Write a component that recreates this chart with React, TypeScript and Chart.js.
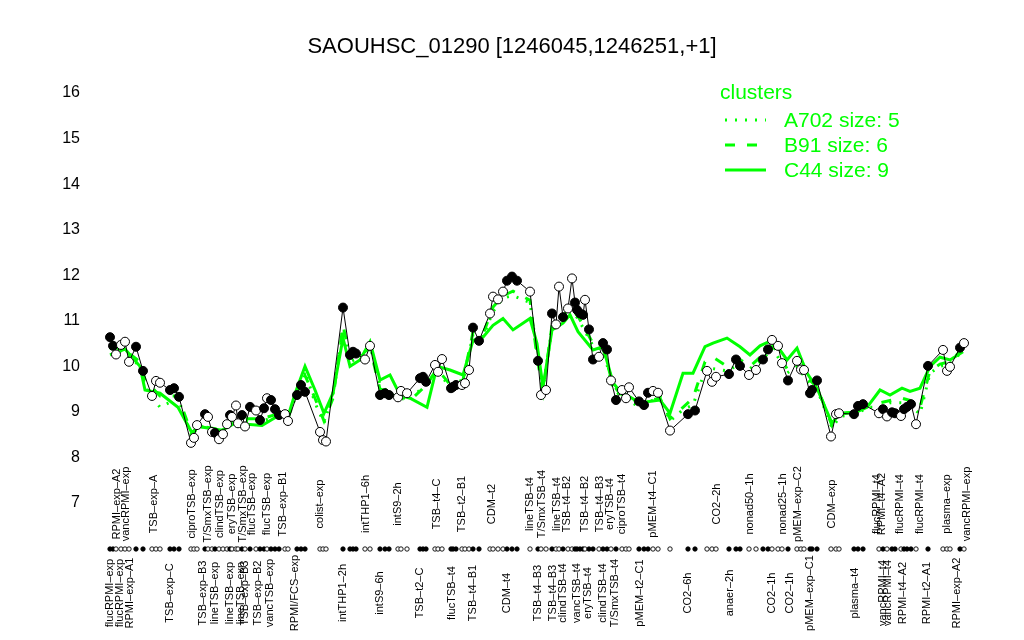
import React, { useEffect, useRef } from "react";
import { Chart, registerables } from "chart.js";

Chart.register(...registerables);

const TITLE = "SAOUHSC_01290 [1246045,1246251,+1]";

// sample positions along the condition axis, expression values, filled marker flag
const samplePos = [
  110, 113, 116, 121, 125, 129, 136, 143, 152, 156, 160, 170, 174, 179, 191, 194, 197, 205, 208, 212,
  215, 219, 223, 227, 230, 232, 236, 238, 242, 245, 250, 256, 260, 264, 267, 271, 275, 279, 285, 288,
  297, 301, 305, 320, 323, 326, 343, 350, 353, 356, 365, 370, 380, 385, 389, 398, 401, 407, 420, 423,
  426, 435, 438, 442, 451, 453, 456, 462, 465, 469, 473, 479, 490, 493, 498, 503, 507, 512, 517, 530,
  538, 541, 546, 552, 556, 559, 563, 568, 572, 575, 577, 580, 583, 585, 589, 593, 599, 603, 607, 611,
  616, 622, 626, 629, 639, 644, 648, 653, 658, 670, 688, 695, 707, 712, 716, 729, 736, 740, 749, 756,
  763, 768, 772, 778, 782, 788, 797, 801, 804, 810, 812, 817, 831, 836, 839, 854, 858, 863, 879, 883,
  887, 892, 895, 901, 904, 907, 911, 916, 928, 943, 947, 950, 960, 964,
];
const sampleVal = [
  10.64, 10.45, 10.26, 10.47, 10.54, 10.1, 10.43, 9.9, 9.35, 9.68, 9.64, 9.48, 9.52, 9.33, 8.32, 8.43, 8.71, 8.95, 8.89, 8.56,
  8.54, 8.4, 8.51, 8.73, 8.93, 8.89, 9.14, 8.75, 8.93, 8.68, 9.11, 9.03, 8.82, 9.08, 9.3, 9.26, 9.06, 8.93, 8.95, 8.8,
  9.37, 9.59, 9.44, 8.56, 8.38, 8.35, 11.29, 10.25, 10.32, 10.28, 10.15, 10.45, 9.37, 9.41, 9.37, 9.32, 9.46, 9.41, 9.74, 9.77,
  9.66, 10.03, 9.88, 10.16, 9.52, 9.55, 9.59, 9.59, 9.63, 9.92, 10.85, 10.56, 11.16, 11.53, 11.47, 11.64, 11.88, 11.97, 11.88, 11.64,
  10.12, 9.37, 9.48, 11.16, 10.92, 11.75, 11.08, 11.27, 11.93, 11.4, 11.24, 11.16, 11.13, 11.46, 10.81, 10.15, 10.21, 10.51, 10.37, 9.69,
  9.26, 9.48, 9.3, 9.54, 9.23, 9.15, 9.42, 9.46, 9.42, 8.59, 8.95, 9.03, 9.9, 9.66, 9.77, 9.83, 10.15, 10.01, 9.81, 9.92,
  10.15, 10.37, 10.58, 10.45, 10.07, 9.69, 10.12, 9.93, 9.92, 9.41, 9.48, 9.69, 8.46, 8.95, 8.97, 8.95, 9.13, 9.17, 8.97, 9.06,
  8.9, 8.99, 8.97, 8.91, 9.06, 9.11, 9.17, 8.73, 10.01, 10.36, 9.9, 9.99, 10.41, 10.51,
];
const sampleFilled = [
  1, 1, 0, 0, 0, 0, 1, 1, 0, 0, 0, 1, 1, 1, 0, 0, 0, 1, 0, 0,
  1, 0, 0, 0, 1, 0, 0, 0, 1, 0, 1, 0, 1, 1, 0, 1, 1, 1, 0, 0,
  1, 1, 1, 0, 0, 0, 1, 1, 1, 1, 0, 0, 1, 1, 1, 0, 0, 0, 1, 1,
  1, 0, 0, 0, 1, 1, 1, 0, 0, 0, 1, 1, 0, 0, 0, 0, 1, 1, 1, 0,
  1, 0, 0, 1, 0, 0, 1, 0, 0, 1, 1, 1, 1, 0, 1, 1, 0, 1, 1, 0,
  1, 0, 0, 0, 1, 1, 1, 0, 0, 0, 1, 1, 0, 0, 0, 1, 1, 1, 0, 0,
  1, 1, 0, 0, 0, 1, 0, 0, 0, 1, 1, 1, 0, 0, 0, 1, 1, 1, 0, 1,
  0, 1, 1, 0, 1, 1, 1, 0, 1, 0, 0, 0, 1, 0,
];

// cluster profiles
const clusterPos = [
  110, 125, 140, 145, 160, 178, 192, 198, 222, 235, 262, 277, 288, 295, 305, 315, 324, 333, 343, 350,
  360, 370, 380, 390, 400, 410, 427, 437, 450, 463, 473, 483, 493, 503, 513, 530, 537, 543, 552, 563,
  570, 578, 593, 603, 613, 620, 640, 660, 670, 683, 693, 705, 713, 727, 740, 750, 760, 773, 787, 797,
  807, 817, 832, 840, 857, 867, 880, 890, 902, 910, 920, 930, 940, 950, 963,
];
const clusterC44 = [
  10.25, 10.38, 10.0, 9.48, 9.41, 9.1, 8.54, 8.68, 8.6, 8.75, 8.7, 8.9, 8.9, 9.4, 10.0, 9.48, 8.97, 9.41, 10.62, 10.0,
  10.14, 10.54, 9.7, 9.81, 9.37, 9.3, 9.1, 10.0, 9.92, 9.81, 10.57, 10.64, 10.9, 11.05, 10.8, 11.05, 10.5, 9.54, 10.8, 10.95,
  11.13, 10.76, 10.36, 10.43, 9.64, 9.45, 9.2, 9.26, 8.97, 9.85, 9.85, 10.43, 10.51, 10.62, 10.43, 10.25, 10.45, 10.58, 10.14, 10.4,
  9.85, 9.52, 8.75, 8.97, 9.0, 9.1, 9.48, 9.37, 9.52, 9.45, 9.52, 10.0, 10.2, 10.14, 10.32,
];
const clusterB91 = [
  10.45, 10.35, 10.1, 9.7, 9.35, 9.35, 8.5, 8.7, 8.6, 8.85, 8.85, 8.95, 8.85, 9.35, 9.8, 9.3, 8.8, 9.3, 10.9, 10.2,
  10.25, 10.4, 9.5, 9.45, 9.35, 9.25, 9.6, 9.95, 9.6, 9.7, 10.75, 10.7, 11.3, 11.55, 11.65, 11.45, 10.2, 9.45, 10.9, 11.1,
  11.3, 11.1, 10.5, 10.4, 9.6, 9.4, 9.2, 9.3, 8.85, 9.1, 9.3, 10.1, 10.2, 10.0, 10.15, 10.0, 10.2, 10.45, 9.95, 10.1,
  9.75, 9.55, 8.7, 8.95, 9.0, 9.15, 9.2, 9.25, 9.3, 9.25, 9.1, 9.9, 10.05, 10.1, 10.4,
];
const clusterA702 = [
  10.4, 10.3, 10.0, 9.55, 9.1, 9.3, 8.45, 8.7, 8.55, 8.8, 8.8, 8.9, 8.85, 9.3, 9.9, 9.2, 8.75, 9.4, 10.8, 10.1,
  10.2, 10.45, 9.6, 9.4, 9.3, 9.25, 9.65, 9.9, 9.55, 9.65, 10.7, 10.65, 11.2, 11.5, 11.55, 11.4, 10.3, 9.5, 10.85, 11.0,
  11.25, 11.05, 10.45, 10.35, 9.55, 9.35, 9.1, 9.35, 8.8, 9.05, 9.15, 9.9, 9.95, 9.9, 10.05, 9.95, 10.1, 10.4, 9.85, 10.0,
  9.7, 9.5, 8.65, 8.9, 8.95, 9.1, 9.1, 9.2, 9.2, 9.15, 8.95, 9.85, 10.0, 10.05, 10.35,
];

const topLabels = [
  "RPMI\u2013exp\u2013A2", "vancRPMI\u2013exp", "TSB\u2013exp\u2013A", "ciproTSB\u2013exp", "T/SmxTSB\u2013exp", "clindTSB\u2013exp",
  "eryTSB\u2013exp", "T/SmxTSB\u2013exp", "flucTSB\u2013exp", "flucTSB\u2013exp", "TSB\u2013exp\u2013B1", "colist\u2013exp",
  "intTHP1\u20136h", "intS9\u20132h", "TSB\u2013t4\u2013C", "TSB\u2013t2\u2013B1", "CDM\u2013t2", "lineTSB\u2013t4",
  "T/SmxTSB\u2013t4", "lineTSB\u2013t4", "TSB\u2013t4\u2013B2", "TSB\u2013t4\u2013B2", "TSB\u2013t4\u2013B3", "eryTSB\u2013t4",
  "ciproTSB\u2013t4", "pMEM\u2013t4\u2013C1", "CO2\u20132h", "nonad50\u20131h", "nonad25\u20131h", "pMEM\u2013exp\u2013C2",
  "CDM\u2013exp", "flucRPMI\u2013t4", "RPMI\u2013t4\u2013A2", "flucRPMI\u2013t4", "flucRPMI\u2013t4", "plasma\u2013exp",
  "vancRPMI\u2013exp",
];
const topLabelPos = [
  117, 126, 154, 192, 208, 220, 232, 243, 252, 267, 283, 320, 366, 398, 437, 462, 492, 530, 542, 557,
  567, 585, 600, 610, 622, 653, 717, 750, 783, 798, 832, 877, 882, 900, 920, 947, 967,
];
const bottomLabels = [
  "flucRPMI\u2013exp", "flucRPMI\u2013exp", "RPMI\u2013exp\u2013A1", "TSB\u2013exp\u2013C", "TSB\u2013exp\u2013B3", "lineTSB\u2013exp",
  "lineTSB\u2013exp", "lineTSB\u2013exp", "TSB\u2013exp\u2013B3", "TSB\u2013exp\u2013B2", "vancTSB\u2013exp", "RPMI/FCS\u2013exp",
  "intTHP1\u20132h", "intS9\u20136h", "TSB\u2013t2\u2013C", "flucTSB\u2013t4", "TSB\u2013t4\u2013B1", "CDM\u2013t4",
  "TSB\u2013t4\u2013B3", "TSB\u2013t4\u2013B3", "clindTSB\u2013t4", "vancTSB\u2013t4", "eryTSB\u2013t4", "clindTSB\u2013t4",
  "T/SmxTSB\u2013t4", "pMEM\u2013t2\u2013C1", "CO2\u20136h", "anaer\u20132h", "CO2\u20131h", "CO2\u20131h",
  "pMEM\u2013exp\u2013C1", "plasma\u2013t4", "vancRPMI\u2013t4", "vancRPMI\u2013t4", "RPMI\u2013t4\u2013A2", "RPMI\u2013t2\u2013A1",
  "RPMI\u2013exp\u2013A2",
];
const bottomLabelPos = [
  110, 120, 130, 170, 203, 215, 230, 241, 245, 258, 270, 295, 343, 380, 420, 452, 473, 507, 538, 553,
  563, 577, 588, 603, 615, 640, 688, 730, 772, 790, 810, 855, 883, 888, 903, 927, 957,
];

const yTicks = [7, 8, 9, 10, 11, 12, 13, 14, 15, 16];
const legendTitle = "clusters";
const legendLabels = ["A702 size: 5", "B91 size: 6", "C44 size: 9"];
const legendDash = [[2, 8], [10, 12], []];

const GREEN = "#00ff00";
const FONT = '"Liberation Sans", Arial, Helvetica, sans-serif';

const decorPlugin = {
  id: "decor",
  afterDraw(chart: any) {
    const ctx = chart.ctx as CanvasRenderingContext2D;
    const xs = chart.scales.x;
    const ys = chart.scales.y;
    const area = chart.chartArea;
    ctx.save();

    // title
    ctx.fillStyle = "#000";
    ctx.font = `22px ${FONT}`;
    ctx.textAlign = "center";
    ctx.textBaseline = "middle";
    ctx.fillText(TITLE, chart.width / 2, 47);

    // y tick labels
    ctx.font = `16px ${FONT}`;
    ctx.textAlign = "right";
    ctx.textBaseline = "middle";
    for (const t of yTicks) {
      const py = ys.getPixelForValue(t);
      ctx.fillText(String(t), area.left - 10, py);
    }

    // rug of samples
    const rugY = area.bottom + 46;
    for (let i = 0; i < samplePos.length; i++) {
      const px = xs.getPixelForValue(samplePos[i]);
      ctx.beginPath();
      ctx.arc(px, rugY, 2.2, 0, Math.PI * 2);
      ctx.fillStyle = sampleFilled[i] ? "#000" : "#fff";
      ctx.fill();
      ctx.strokeStyle = "#000";
      ctx.lineWidth = 0.9;
      ctx.stroke();
    }

    // condition labels
    ctx.fillStyle = "#000";
    ctx.font = `11px ${FONT}`;
    ctx.textAlign = "center";
    ctx.textBaseline = "middle";
    const drawRot = (txt: string, x: number, y: number) => {
      ctx.save();
      ctx.translate(x, y);
      ctx.rotate(-Math.PI / 2);
      ctx.fillText(txt, 0, 0);
      ctx.restore();
    };
    topLabels.forEach((l, i) => drawRot(l, xs.getPixelForValue(topLabelPos[i]), area.bottom + 1));
    bottomLabels.forEach((l, i) => drawRot(l, xs.getPixelForValue(bottomLabelPos[i]), area.bottom + 90));

    // legend
    ctx.fillStyle = GREEN;
    ctx.strokeStyle = GREEN;
    ctx.font = `21px ${FONT}`;
    ctx.textAlign = "left";
    ctx.textBaseline = "middle";
    ctx.fillText(legendTitle, 720, 93);
    legendLabels.forEach((l, i) => {
      const y = 120 + i * 25;
      ctx.lineWidth = 3;
      ctx.setLineDash(legendDash[i]);
      ctx.beginPath();
      ctx.moveTo(725, y);
      ctx.lineTo(766, y);
      ctx.stroke();
      ctx.setLineDash([]);
      ctx.fillText(l, 784, y + 1);
    });

    ctx.restore();
  },
};

export default function App() {
  const ref = useRef<HTMLCanvasElement | null>(null);

  useEffect(() => {
    document.body.style.margin = "0";
    const canvas = ref.current;
    if (!canvas) return;

    const mk = (vals: number[]) => clusterPos.map((p, i) => ({ x: p, y: vals[i] }));

    const chart = new Chart(canvas, {
      type: "scatter",
      data: {
        datasets: [
          {
            label: "samples",
            data: samplePos.map((p, i) => ({ x: p, y: sampleVal[i] })),
            showLine: true,
            borderColor: "#000",
            borderWidth: 1,
            pointRadius: 4.5,
            pointBorderWidth: 1,
            pointBorderColor: "#000",
            pointBackgroundColor: sampleFilled.map((f) => (f ? "#000" : "#fff")),
            order: 0,
          } as any,
          {
            label: "C44",
            data: mk(clusterC44),
            showLine: true,
            borderColor: GREEN,
            borderWidth: 3,
            pointRadius: 0,
            order: 1,
          } as any,
          {
            label: "B91",
            data: mk(clusterB91),
            showLine: true,
            borderColor: GREEN,
            borderWidth: 3,
            borderDash: [10, 12],
            pointRadius: 0,
            order: 2,
          } as any,
          {
            label: "A702",
            data: mk(clusterA702),
            showLine: true,
            borderColor: GREEN,
            borderWidth: 3,
            borderDash: [2, 8],
            pointRadius: 0,
            order: 3,
          } as any,
        ],
      },
      options: {
        responsive: false,
        animation: false,
        events: [],
        layout: { padding: { left: 90, right: 49, top: 93, bottom: 137 } },
        scales: {
          x: { type: "linear", min: 90, max: 975, display: false },
          y: { type: "linear", min: 7, max: 16, display: false },
        },
        plugins: {
          legend: { display: false },
          tooltip: { enabled: false },
          title: { display: false },
        },
      },
      plugins: [decorPlugin],
    });
    return () => chart.destroy();
  }, []);

  return (
    <div style={{ width: 1024, height: 640, background: "#fff" }}>
      <canvas ref={ref} width={1024} height={640} style={{ display: "block", width: 1024, height: 640 }} />
    </div>
  );
}
